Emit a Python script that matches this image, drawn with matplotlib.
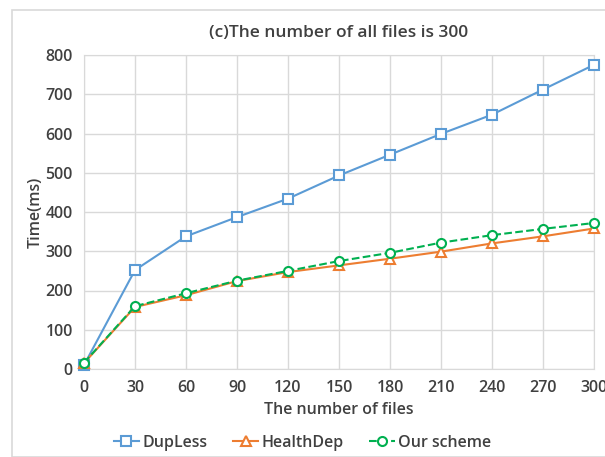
import matplotlib.pyplot as plt
from matplotlib.patches import Rectangle

# data
files = [0, 30, 60, 90, 120, 150, 180, 210, 240, 270, 300]
dupless = [10, 252, 338, 387, 434, 493, 546, 599, 648, 712, 775]
healthdep = [15, 158, 188, 224, 247, 264, 281, 299, 320, 338, 358]
our_scheme = [16, 160, 193, 225, 250, 275, 296, 322, 341, 357, 372]

plt.rcParams['font.family'] = ['Open Sans', 'DejaVu Sans']
txt = '#404040'

fig = plt.figure(figsize=(6.05, 4.57), dpi=100)
fig.patches.append(Rectangle((12/605, 0), 1.0, 1 - 10/457, transform=fig.transFigure,
                             fill=False, edgecolor='#d9d9d9', linewidth=1.2))
ax = fig.add_axes([84/605, 1 - 369/457, 510/605, 314/457])

ax.plot(files, dupless, color='#5B9BD5', lw=1.5, marker='s', ms=6.5,
        mfc='white', mec='#5B9BD5', mew=1.5, label='DupLess', clip_on=False, zorder=3)
ax.plot(files, healthdep, color='#ED7D31', lw=1.5, marker='^', ms=6.5,
        mfc='white', mec='#ED7D31', mew=1.5, label='HealthDep', clip_on=False, zorder=3)
ax.plot(files, our_scheme, color='#00B050', lw=1.5, ls='--', marker='o', ms=6.5,
        mfc='white', mec='#00B050', mew=1.5, label='Our scheme', clip_on=False, zorder=4)

ax.set_xlim(0, 300)
ax.set_ylim(0, 800)
ax.set_xticks(files)
ax.set_yticks(range(0, 801, 100))
ax.grid(True, color='#d9d9d9', lw=1)
for s in ax.spines.values():
    s.set_color('#d9d9d9')
ax.tick_params(length=0, labelsize=11.5, colors=txt, pad=8)
for lab in ax.get_xticklabels() + ax.get_yticklabels():
    lab.set_fontweight('semibold')

ax.set_title('(c)The number of all files is 300', fontsize=12.5, color=txt,
             fontweight='semibold', pad=13)
ax.set_xlabel('The number of files', fontsize=11.5, color=txt, fontweight='semibold', labelpad=4)
ax.set_ylabel('Time(ms)', fontsize=11.5, color=txt, fontweight='semibold', labelpad=1)

leg = fig.legend(loc='center', bbox_to_anchor=(0.5, 1 - 443/457), ncol=3, frameon=False,
                 fontsize=11.5, handlelength=1.6, columnspacing=1.6, handletextpad=0.2)
for t in leg.get_texts():
    t.set_color(txt)
    t.set_fontweight('semibold')

fig.savefig('out.png', dpi=100)
